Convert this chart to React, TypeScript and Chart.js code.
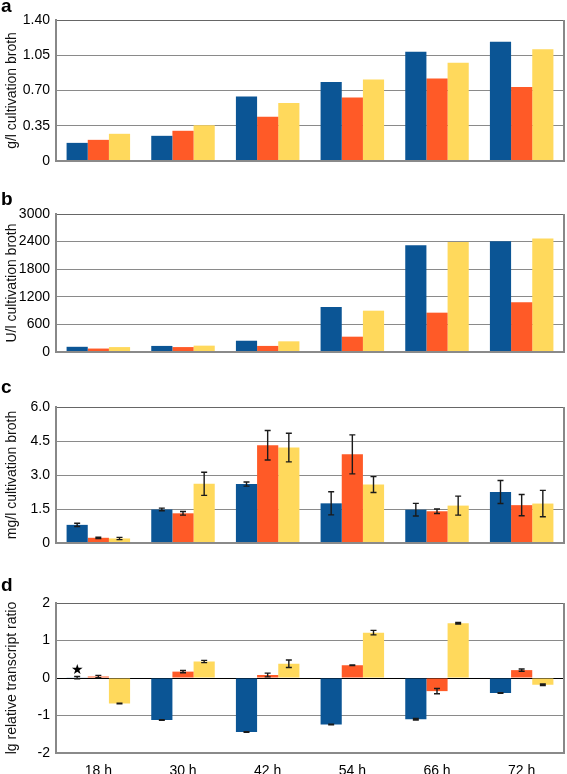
import React, { useEffect, useRef } from 'react';
import { Chart, registerables } from 'chart.js';

Chart.register(...registerables);

// ---------- data ----------
const categories = ['18 h', '30 h', '42 h', '54 h', '66 h', '72 h'];

const aBlue = [0.18, 0.25, 0.64, 0.785, 1.085, 1.185];
const aRed = [0.21, 0.3, 0.44, 0.63, 0.82, 0.735];
const aYellow = [0.27, 0.355, 0.575, 0.81, 0.975, 1.11];
const aTickLabels = ['0', '0.35', '0.70', '1.05', '1.40'];

const bBlue = [113, 132, 245, 980, 2320, 2405];
const bRed = [75, 107, 132, 333, 855, 1080];
const bYellow = [107, 138, 232, 898, 2390, 2470];
const bTickLabels = ['0', '600', '1200', '1800', '2400', '3000'];

const cBlue = [0.8, 1.48, 2.6, 1.75, 1.47, 2.25];
const cBlueErr = [0.07, 0.06, 0.09, 0.51, 0.28, 0.51];
const cRed = [0.23, 1.31, 4.31, 3.91, 1.4, 1.67];
const cRedErr = [0.03, 0.08, 0.65, 0.86, 0.1, 0.47];
const cYellow = [0.2, 2.61, 4.21, 2.58, 1.65, 1.74];
const cYellowErr = [0.05, 0.51, 0.63, 0.35, 0.42, 0.58];
const cTickLabels = ['0', '1.5', '3.0', '4.5', '6.0'];

const dBlue = [0.01, -1.12, -1.44, -1.24, -1.1, -0.4];
const dBlueErr = [0.03, 0.01, 0.01, 0.01, 0.02, 0.01];
const dRed = [0.04, 0.17, 0.08, 0.34, -0.35, 0.21];
const dRedErr = [0.03, 0.03, 0.05, 0.01, 0.07, 0.03];
const dYellow = [-0.68, 0.44, 0.38, 1.21, 1.46, -0.18];
const dYellowErr = [0.01, 0.03, 0.1, 0.06, 0.02, 0.02];
const dTickLabels = ['-2', '-1', '0', '1', '2'];
const dStarValue = 0.2;

// ---------- style ----------
const BLUE = '#0b5595';
const RED = '#ff5a27';
const YELLOW = '#ffd95c';
const FONT = '"Liberation Sans", Arial, Helvetica, sans-serif';
const W = 567;
const AXIS_LEFT = 56;
const PLOT_RIGHT = 564;

const errorBarPlugin = {
  id: 'errorBars',
  afterDatasetsDraw(chart: any) {
    const ctx = chart.ctx;
    const yScale = chart.scales.y;
    chart.data.datasets.forEach((ds: any, i: number) => {
      if (!ds.errors) return;
      const meta = chart.getDatasetMeta(i);
      meta.data.forEach((el: any, j: number) => {
        const v = ds.data[j];
        const e = ds.errors[j];
        const x = el.x;
        const y1 = yScale.getPixelForValue(v + e);
        const y2 = yScale.getPixelForValue(v - e);
        ctx.save();
        ctx.strokeStyle = '#1a1a1a';
        ctx.lineWidth = 1.4;
        ctx.beginPath();
        ctx.moveTo(x, y1);
        ctx.lineTo(x, y2);
        ctx.moveTo(x - 3, y1);
        ctx.lineTo(x + 3, y1);
        ctx.moveTo(x - 3, y2);
        ctx.lineTo(x + 3, y2);
        ctx.stroke();
        ctx.restore();
      });
    });
  },
};

const borderPlugin = {
  id: 'plotBorder',
  afterDraw(chart: any) {
    const { ctx, chartArea } = chart;
    ctx.save();
    ctx.strokeStyle = '#888';
    ctx.lineWidth = 2;
    ctx.beginPath();
    ctx.moveTo(chartArea.right, chartArea.top);
    ctx.lineTo(chartArea.right, chartArea.bottom + 1);
    ctx.stroke();
    ctx.restore();
  },
};

const starPlugin = {
  id: 'starMark',
  afterDatasetsDraw(chart: any, _args: any, opts: any) {
    if (opts == null || opts.value == null) return;
    const el = chart.getDatasetMeta(0).data[0];
    if (!el) return;
    const y = chart.scales.y.getPixelForValue(opts.value);
    const ctx = chart.ctx;
    ctx.save();
    ctx.fillStyle = '#000';
    ctx.font = '14px "DejaVu Sans", sans-serif';
    ctx.textAlign = 'center';
    ctx.textBaseline = 'middle';
    ctx.fillText('★', el.x, y);
    ctx.restore();
  },
};

type PanelProps = {
  top: number;
  height: number;
  padTop: number;
  padBottom: number;
  series: number[][];
  errors?: number[][];
  min: number;
  max: number;
  step: number;
  tickLabels: string[];
  title: string;
  showX: boolean;
  zeroLine?: boolean;
  star?: number;
};

function Panel(p: PanelProps) {
  const ref = useRef<HTMLCanvasElement | null>(null);
  useEffect(() => {
    if (!ref.current) return;
    const colors = [BLUE, RED, YELLOW];
    const chart = new Chart(ref.current, {
      type: 'bar',
      data: {
        labels: categories,
        datasets: p.series.map((s, i) => ({
          data: s,
          backgroundColor: colors[i],
          borderWidth: 0,
          errors: p.errors ? p.errors[i] : undefined,
        })) as any,
      },
      options: {
        animation: false,
        responsive: false,
        maintainAspectRatio: false,
        devicePixelRatio: 1,
        layout: { padding: { top: p.padTop, bottom: p.padBottom, left: 0, right: W - PLOT_RIGHT } },
        datasets: { bar: { categoryPercentage: 0.75, barPercentage: 1.0 } },
        plugins: {
          legend: { display: false },
          tooltip: { enabled: false },
          starMark: { value: p.star },
        } as any,
        scales: {
          x: {
            display: p.showX,
            grid: { display: false },
            border: { display: false },
            ticks: { color: '#000', font: { size: 14, family: FONT }, padding: 2, maxRotation: 0 },
            afterFit: (s: any) => {
              s.height = 21;
            },
          },
          y: {
            min: p.min,
            max: p.max,
            ticks: {
              stepSize: p.step,
              color: '#000',
              font: { size: 14, family: FONT },
              padding: 6,
              callback: (_v: any, i: number) => p.tickLabels[i],
            },
            grid: {
              drawTicks: false,
              color: (c: any) => {
                const v = c.tick ? c.tick.value : null;
                if (p.zeroLine && v === 0) return '#000';
                if (v === p.max) return '#666';
                return '#8a8a8a';
              },
              lineWidth: (c: any) => {
                const v = c.tick ? c.tick.value : null;
                if (v === p.min) return 2;
                return 1;
              },
            },
            border: { display: true, color: '#888', width: 2 },
            title: {
              display: true,
              text: p.title,
              color: '#111',
              font: { size: 14, family: FONT },
              padding: { top: 4, bottom: 0 },
            },
            afterFit: (s: any) => {
              s.width = AXIS_LEFT;
            },
          },
        },
      } as any,
      plugins: [errorBarPlugin, borderPlugin, starPlugin],
    });
    return () => chart.destroy();
  }, []);
  return (
    <canvas
      ref={ref}
      width={W}
      height={p.height}
      style={{ position: 'absolute', left: 0, top: p.top, width: W, height: p.height }}
    />
  );
}

const letterStyle = (top: number): React.CSSProperties => ({
  position: 'absolute',
  left: 1,
  top,
  fontFamily: FONT,
  fontWeight: 'bold',
  fontSize: 19,
  lineHeight: '19px',
  color: '#000',
});

export default function App() {
  return (
    <div style={{ position: 'absolute', left: 0, top: 0, width: W, height: 774, background: '#fff', overflow: 'hidden' }}>
      <Panel
        top={0}
        height={192}
        padTop={20}
        padBottom={10}
        series={[aBlue, aRed, aYellow]}
        min={0}
        max={1.4}
        step={0.35}
        tickLabels={aTickLabels}
        title="g/l cultivation broth"
        showX={false}
      />
      <Panel
        top={192}
        height={191}
        padTop={22}
        padBottom={10}
        series={[bBlue, bRed, bYellow]}
        min={0}
        max={3000}
        step={600}
        tickLabels={bTickLabels}
        title="U/l cultivation broth"
        showX={false}
      />
      <Panel
        top={383}
        height={191}
        padTop={24}
        padBottom={10}
        series={[cBlue, cRed, cYellow]}
        errors={[cBlueErr, cRedErr, cYellowErr]}
        min={0}
        max={6}
        step={1.5}
        tickLabels={cTickLabels}
        title="mg/l cultivation broth"
        showX={false}
      />
      <Panel
        top={574}
        height={200}
        padTop={29}
        padBottom={0}
        series={[dBlue, dRed, dYellow]}
        errors={[dBlueErr, dRedErr, dYellowErr]}
        min={-2}
        max={2}
        step={1}
        tickLabels={dTickLabels}
        title="lg relative transcript ratio"
        showX={true}
        zeroLine={true}
        star={dStarValue}
      />
      <div style={letterStyle(-4)}>a</div>
      <div style={letterStyle(189)}>b</div>
      <div style={letterStyle(377)}>c</div>
      <div style={letterStyle(575)}>d</div>
    </div>
  );
}
